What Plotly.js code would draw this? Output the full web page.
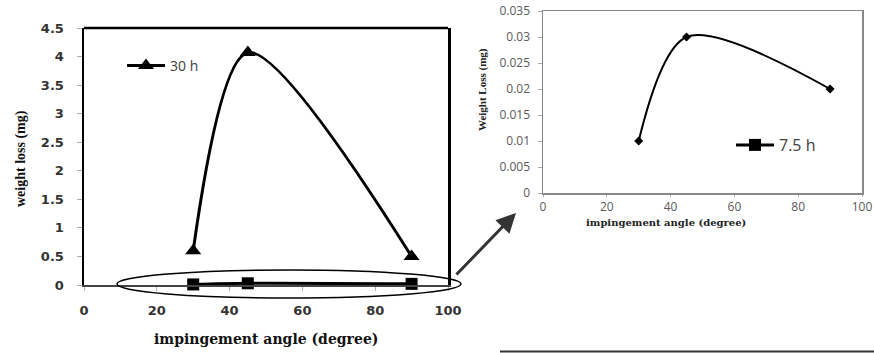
<!DOCTYPE html>
<html>
<head>
<meta charset="utf-8">
<script src="https://cdn.plot.ly/plotly-3.0.1.min.js"></script>
<style>html,body{margin:0;padding:0;background:#fff;}#chart{width:874px;height:353px;}</style>
</head>
<body>
<div id="chart"></div>
<script>
// Data
const angles = [30, 45, 90];                 // impingement angle (degree)
const loss30h = [0.6, 4.07, 0.5];            // weight loss (mg), 30 h
const loss75h = [0.01, 0.03, 0.02];          // weight loss (mg), 7.5 h
const mainXTicks = [0, 20, 40, 60, 80, 100];
const mainYTicks = [0, 0.5, 1, 1.5, 2, 2.5, 3, 3.5, 4, 4.5];
const insetYTicks = [0, 0.005, 0.01, 0.015, 0.02, 0.025, 0.03, 0.035];

const W = 874, H = 353;
const px = v => v / W;
const py = v => (H - v) / H;

const traces = [
  {
    x: angles, y: loss30h, name: '30 h', type: 'scatter', mode: 'lines+markers',
    line: {color: '#000', width: 3, shape: 'spline', smoothing: 0.85},
    marker: {symbol: 'triangle-up', size: 14, color: '#000'},
    xaxis: 'x', yaxis: 'y', cliponaxis: false, legend: 'legend'
  },
  {
    x: angles, y: loss75h, name: '7.5 h', type: 'scatter', mode: 'lines+markers',
    line: {color: '#000', width: 3, shape: 'spline', smoothing: 0.85},
    marker: {symbol: 'square', size: 12, color: '#000'},
    xaxis: 'x', yaxis: 'y', cliponaxis: false, legend: 'legend2'
  },
  {
    x: angles, y: loss75h, name: '7.5 h', type: 'scatter', mode: 'lines+markers',
    line: {color: '#000', width: 2, shape: 'spline', smoothing: 0.9},
    marker: {symbol: 'diamond', size: 7, color: '#000'},
    xaxis: 'x2', yaxis: 'y2', cliponaxis: false, showlegend: false
  }
];

const mainTickFont = {family: 'DejaVu Sans', size: 13, color: '#333', weight: 'bold'};
const insetTickFont = {family: 'Open Sans', size: 12, color: '#595959'};

const layout = {
  width: W, height: H,
  margin: {l: 0, r: 0, t: 0, b: 0},
  paper_bgcolor: '#fff', plot_bgcolor: 'rgba(0,0,0,0)',
  xaxis: {
    domain: [px(84), px(448)], range: [0, 100], tickvals: mainXTicks,
    showgrid: false, zeroline: false, showline: true, linecolor: '#444', linewidth: 1.5,
    ticks: 'outside', ticklen: 4, tickcolor: '#aaa', tickfont: mainTickFont,
    ticklabelstandoff: 9, anchor: 'y', fixedrange: true
  },
  yaxis: {
    domain: [py(285), py(28)], range: [0, 4.5], tickvals: mainYTicks,
    showgrid: false, zeroline: false, showline: true, mirror: true, linecolor: '#000', linewidth: 2.5,
    ticks: 'outside', ticklen: 5, tickcolor: '#aaa', tickfont: mainTickFont,
    ticklabelstandoff: 10, anchor: 'x', fixedrange: true
  },
  xaxis2: {
    domain: [px(543), px(862)], range: [0, 100], tickvals: mainXTicks,
    showgrid: false, zeroline: false, showline: true, mirror: true, linecolor: '#888', linewidth: 1.5,
    ticks: 'outside', ticklen: 2, tickcolor: '#aaa', tickfont: insetTickFont,
    ticklabelstandoff: 0, anchor: 'y2', fixedrange: true
  },
  yaxis2: {
    domain: [py(193), py(11)], range: [0, 0.035], tickvals: insetYTicks,
    showgrid: false, zeroline: false, showline: true, mirror: true, linecolor: '#888', linewidth: 1.5,
    ticks: 'outside', ticklen: 4, tickcolor: '#aaa', tickfont: insetTickFont,
    ticklabelstandoff: 5, anchor: 'x2', fixedrange: true
  },
  legend: {
    x: px(122), y: py(66), xanchor: 'left', yanchor: 'middle',
    bgcolor: 'rgba(0,0,0,0)', borderwidth: 0, itemwidth: 38,
    font: {family: 'Open Sans', size: 14, color: '#404040'}
  },
  legend2: {
    x: px(731), y: py(145), xanchor: 'left', yanchor: 'middle',
    bgcolor: 'rgba(0,0,0,0)', borderwidth: 0, itemwidth: 38,
    font: {family: 'Open Sans', size: 16, color: '#404040'}
  },
  shapes: [
    {type: 'line', xref: 'paper', yref: 'paper', x0: px(84), x1: px(448), y0: py(28), y1: py(28),
     line: {color: '#000', width: 2.5}},
    {type: 'circle', xref: 'paper', yref: 'paper', x0: px(117), x1: px(461), y0: py(298), y1: py(270),
     line: {color: '#000', width: 1.5}},
    {type: 'line', xref: 'paper', yref: 'paper', x0: px(500), x1: 1, y0: py(351.5), y1: py(351.5),
     line: {color: '#333', width: 2}}
  ],
  annotations: [
    {text: 'impingement angle (degree)', xref: 'paper', yref: 'paper', x: px(266), y: py(339),
     xanchor: 'center', yanchor: 'middle', showarrow: false,
     font: {family: 'DejaVu Serif', size: 14, color: '#111', weight: 'bold'}},
    {text: 'weight loss (mg)', xref: 'paper', yref: 'paper', x: px(21), y: py(159), textangle: -90,
     xanchor: 'center', yanchor: 'middle', showarrow: false,
     font: {family: 'Liberation Serif', size: 14, color: '#111', weight: 'bold'}},
    {text: 'impingement angle (degree)', xref: 'paper', yref: 'paper', x: px(666), y: py(222),
     xanchor: 'center', yanchor: 'middle', showarrow: false,
     font: {family: 'DejaVu Serif', size: 10, color: '#222', weight: 'bold'}},
    {text: 'Weight Loss (mg)', xref: 'paper', yref: 'paper', x: px(483), y: py(90), textangle: -90,
     xanchor: 'center', yanchor: 'middle', showarrow: false,
     font: {family: 'Liberation Serif', size: 11, color: '#222', weight: 'bold'}},
    {text: '', xref: 'paper', yref: 'paper', x: px(516), y: py(213), ax: -61, ay: 63,
     showarrow: true, arrowhead: 2, arrowsize: 1.3, arrowwidth: 3, arrowcolor: '#333', standoff: 0}
  ]
};

Plotly.newPlot('chart', traces, layout, {staticPlot: true, displayModeBar: false});
</script>
</body>
</html>
